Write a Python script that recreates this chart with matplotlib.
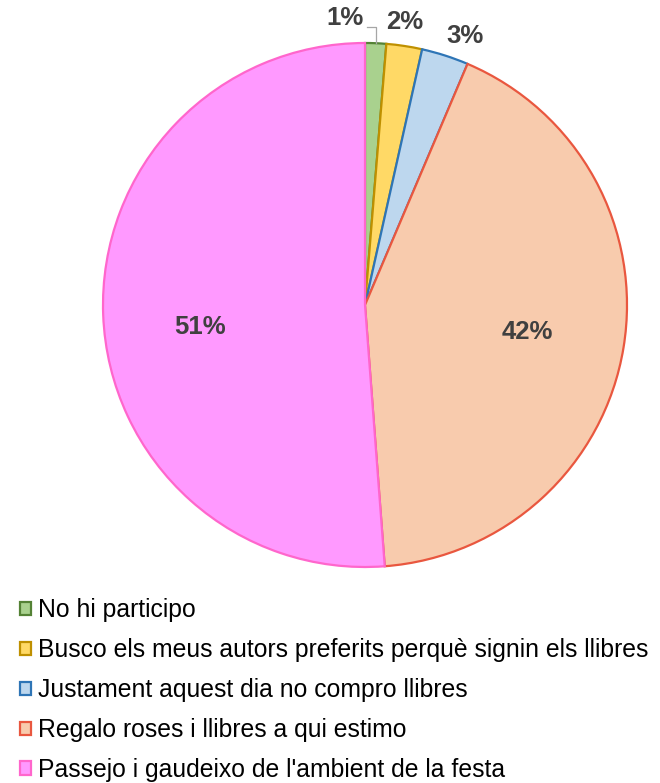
import matplotlib
matplotlib.use('Agg')
import matplotlib.pyplot as plt
import numpy as np

## data
categories = ['No hi participo',
              'Busco els meus autors preferits perquè signin els llibres',
              'Justament aquest dia no compro llibres',
              'Regalo roses i llibres a qui estimo',
              "Passejo i gaudeixo de l'ambient de la festa"]
values = [1.3, 2.2, 2.9, 42.4, 51.2]
pct_labels = ['1%', '2%', '3%', '42%', '51%']

fills = ['#A9D18E', '#FFD966', '#BDD7EE', '#F8CBAD', '#FF99FF']
edges = ['#548235', '#BF9000', '#2E75B6', '#E9573F', '#FF66CC']

plt.rcParams['font.family'] = ['Liberation Sans', 'DejaVu Sans']

fig = plt.figure(figsize=(6.6, 7.83), dpi=100)
W, H = 660, 783
cx, cy, r = 365, 305, 262
ax = fig.add_axes([(cx - r) / W, (H - cy - r) / H, 2 * r / W, 2 * r / H])

wedges, _ = ax.pie(values, colors=fills, startangle=90, counterclock=False,
                   radius=1.0, wedgeprops=dict(linewidth=1.6))
for w, ec in zip(wedges, edges):
    w.set_edgecolor(ec)
ax.set_xlim(-1, 1)
ax.set_ylim(-1, 1)
ax.set_aspect('equal')
ax.axis('off')

# label positions (data units, pie radius = 1)
label_pos = [(-0.076, 1.095), (0.153, 1.080), (0.382, 1.027),
             (0.620, -0.103), (-0.630, -0.084)]
for (x, y), lab in zip(label_pos, pct_labels):
    ax.text(x, y, lab, ha='center', va='center', fontsize=18.5,
            fontweight='bold', color='#404040', clip_on=False)

# leader line for the 1% label
ax.plot([0.042, 0.042, 0.008], [1.0, 1.061, 1.061], color='#A6A6A6',
        linewidth=0.9, clip_on=False)

leg = fig.legend(wedges, categories, loc='upper left',
                 bbox_to_anchor=(20 / W, 1 - 598.5 / H), frameon=False,
                 fontsize=17.8, handlelength=0.45, handleheight=0.45,
                 handletextpad=0.28, labelspacing=0.64, borderpad=0,
                 borderaxespad=0)

plt.savefig('out.png', dpi=100)
